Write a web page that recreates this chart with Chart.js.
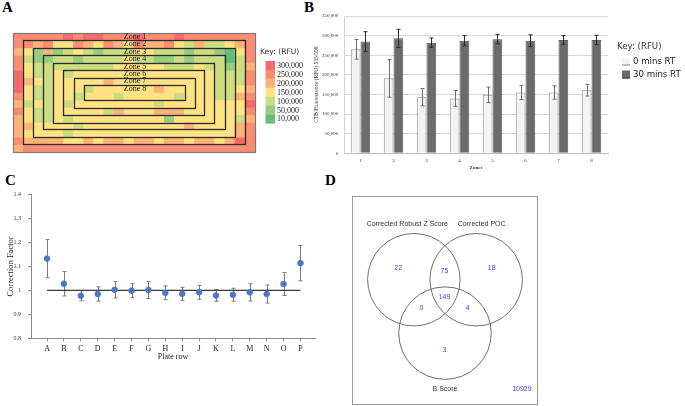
<!DOCTYPE html>
<html>
<head>
<meta charset="utf-8">
<script src="https://cdn.jsdelivr.net/npm/chart.js@4.4.0/dist/chart.umd.min.js"></script>
<style>
  body { margin: 0; background: #fff; width: 685px; height: 406px; position: relative; overflow: hidden; }
  canvas { position: absolute; }
  .tag { position: absolute; font: bold 15px "Liberation Serif", serif; line-height: 15px; color: #000; }
</style>
</head>
<body>
<div class="tag" style="left:2px;top:0px">A</div>
<div class="tag" style="left:304px;top:0px">B</div>
<div class="tag" style="left:5px;top:173px">C</div>
<div class="tag" style="left:325px;top:173px">D</div>

<canvas id="plate" width="330" height="170" style="left:0;top:0"></canvas>
<canvas id="zones" width="385" height="180" style="left:300px;top:0"></canvas>
<canvas id="rows" width="335" height="195" style="left:0;top:175px"></canvas>
<canvas id="venn" width="220" height="226" style="left:340px;top:180px"></canvas>

<script>
// ---- A: plate heat map (384 wells, 16 rows x 24 columns) ----
const keyLevels = [300000, 250000, 200000, 150000, 100000, 50000, 10000];
const keyColors = ['#f8696b', '#fa8d72', '#fcb37a', '#ffe283', '#cbdc81', '#97cd7e', '#63be7b'];
// one digit per well: 7 = 300,000 ... 1 = 10,000 RFU
const plateRows = [
  '666667677666766676666666',
  '665644654654655643533456',
  '542523432333443332332146',
  '632233233334332232333136',
  '643333333344444333433235',
  '743343444444444444443336',
  '754344444544444444443336',
  '743344434444445444443345',
  '643344344434444434443356',
  '534343444444443444444447',
  '643344444354445554444446',
  '543343444444444244444435',
  '554444344444444445444456',
  '544443444444444444444456',
  '655554454554554554554576',
  '566666666666666666666666'
];
const zoneNames = ['Zone 1', 'Zone 2', 'Zone 3', 'Zone 4', 'Zone 5', 'Zone 6', 'Zone 7', 'Zone 8'];

// ---- B: fluorescence per zone ----
const zoneLabels = ['1', '2', '3', '4', '5', '6', '7', '8'];
const rt0 = [265000, 191000, 143000, 140000, 149000, 155000, 155000, 161000];
const rt0Err = [25000, 48000, 22000, 20000, 20000, 18000, 17000, 15000];
const rt30 = [285000, 293000, 282000, 287000, 291000, 287000, 289000, 289000];
const rt30Err = [25000, 23000, 12000, 13000, 12000, 15000, 11000, 12000];

// ---- C: correction factor per plate row ----
const plateRowLabels = ['A', 'B', 'C', 'D', 'E', 'F', 'G', 'H', 'I', 'J', 'K', 'L', 'M', 'N', 'O', 'P'];
const factor = [1.133, 1.028, 0.978, 0.985, 1.003, 0.999, 1.002, 0.990, 0.986, 0.992, 0.979, 0.982, 0.992, 0.985, 1.027, 1.114];
const factorErr = [0.080, 0.051, 0.021, 0.030, 0.034, 0.029, 0.036, 0.029, 0.027, 0.029, 0.024, 0.027, 0.036, 0.038, 0.048, 0.074];
const baseline = 1;

// ---- D: venn counts ----
const vennSets = ['Corrected Robust Z Score', 'Corrected POC', 'B Score'];
const vennCounts = [22, 75, 18, 149, 0, 4, 3, 10929]; // Z, Z+POC, POC, all, Z+B, POC+B, B, none

const serif = '"Liberation Serif", "Times New Roman", serif';

// ================= A =================
const plateRFU = plateRows.map(s => s.split('').map(d => keyLevels[7 - Number(d)]));

const zonePlugin = {
  id: 'zoneBoxes',
  afterDatasetsDraw(chart) {
    const { ctx, scales: { x, y }, chartArea } = chart;
    const nCols = plateRows[0].length, nRows = plateRows.length;
    ctx.save();
    zoneNames.forEach((name, k) => {
      const l = x.getPixelForValue(k), r = x.getPixelForValue(nCols - k);
      const t = y.getPixelForValue(k), b = y.getPixelForValue(nRows - k);
      ctx.lineWidth = k === 0 ? 1.2 : 1.3;
      ctx.strokeStyle = k === 0 ? '#7a7a7a' : '#2b2b2b';
      ctx.strokeRect(Math.round(l) + 0.5, Math.round(t) + 0.5, Math.round(r - l), Math.round(b - t));
    });
    ctx.fillStyle = '#222';
    ctx.font = '8px ' + serif;
    ctx.textAlign = 'center';
    ctx.textBaseline = 'middle';
    zoneNames.forEach((name, k) => {
      ctx.fillText(name, x.getPixelForValue(nCols / 2 + 0.1), y.getPixelForValue(k + 0.5));
    });
    // colour key
    const kx = chartArea.right + 10.5, ky = 61, kw = 9.5, kh = 8.9;
    ctx.textAlign = 'left';
    ctx.font = '7.6px "DejaVu Sans", sans-serif';
    ctx.fillStyle = '#333';
    ctx.fillText('Key: (RFU)', chartArea.right + 5, 52);
    ctx.font = '8px ' + serif;
    keyLevels.forEach((v, i) => {
      ctx.fillStyle = keyColors[i];
      ctx.fillRect(kx, ky + i * kh, kw, kh + 0.3);
      ctx.fillStyle = '#222';
      ctx.fillText(v.toLocaleString('en-US'), kx + kw + 2, ky + i * kh + kh / 2 + 0.5);
    });
    ctx.restore();
  }
};

new Chart(document.getElementById('plate'), {
  type: 'bar',
  data: {
    datasets: plateRFU.map((row, r) => ({
      data: row.map((v, c) => ({ x: c + 0.5, y: [r, r + 1] })),
      backgroundColor: row.map(v => keyColors[keyLevels.indexOf(v)]),
      borderWidth: 0,
      grouped: false,
      barPercentage: 1,
      categoryPercentage: 1
    }))
  },
  options: {
    responsive: false, animation: false, devicePixelRatio: 1,
    layout: { padding: { left: 13, top: 33, right: 75, bottom: 18 } },
    plugins: { legend: { display: false }, tooltip: { enabled: false } },
    scales: {
      x: { type: 'linear', min: 0, max: 24, offset: false, display: false },
      y: { type: 'linear', min: 0, max: 16, reverse: true, display: false }
    }
  },
  plugins: [zonePlugin]
});

// ================= B =================
const errBarsB = {
  id: 'errBarsB',
  afterDatasetsDraw(chart) {
    const { ctx, scales: { y } } = chart;
    ctx.save();
    [rt0Err, rt30Err].forEach((errs, d) => {
      const vals = chart.data.datasets[d].data;
      chart.getDatasetMeta(d).data.forEach((bar, i) => {
        const top = y.getPixelForValue(vals[i] + errs[i]);
        const bot = y.getPixelForValue(vals[i] - errs[i]);
        const xp = Math.round(bar.x) + 0.5;
        ctx.strokeStyle = d ? '#2a2a2a' : '#6e6e6e';
        ctx.lineWidth = 1;
        ctx.beginPath();
        ctx.moveTo(xp, top); ctx.lineTo(xp, bot);
        ctx.moveTo(xp - 2, top); ctx.lineTo(xp + 2, top);
        ctx.moveTo(xp - 2, bot); ctx.lineTo(xp + 2, bot);
        ctx.stroke();
      });
    });
    // legend
    const lx = chart.chartArea.right + 9;
    ctx.font = '8.6px "DejaVu Sans", sans-serif';
    ctx.textBaseline = 'middle';
    ctx.fillStyle = '#333';
    ctx.fillText('Key: (RFU)', lx, 46.5);
    chart.data.datasets.forEach((ds, d) => {
      const sy = 57.5 + d * 13;
      ctx.fillStyle = ds.backgroundColor;
      ctx.fillRect(lx + 5, sy, 8, 8);
      ctx.strokeStyle = d ? '#3a3a3a' : '#8a8a8a';
      ctx.beginPath();
      ctx.moveTo(lx + 5, sy + 7.5); ctx.lineTo(lx + 13, sy + 7.5);
      ctx.stroke();
      ctx.fillStyle = '#222';
      ctx.fillText(ds.label, lx + 16, sy + 4);
    });
    ctx.restore();
  }
};

new Chart(document.getElementById('zones'), {
  type: 'bar',
  data: {
    labels: zoneLabels,
    datasets: [
      { label: '0 mins RT', data: rt0, backgroundColor: '#f3f3f3', borderColor: '#8f8f8f', borderWidth: 1 },
      { label: '30 mins RT', data: rt30, backgroundColor: '#6b6b6b', borderColor: '#5a5a5a', borderWidth: 1 }
    ]
  },
  options: {
    responsive: false, animation: false, devicePixelRatio: 1,
    layout: { padding: { left: 0, top: 16, right: 77, bottom: 0 } },
    datasets: { bar: { categoryPercentage: 0.59, barPercentage: 1 } },
    plugins: { legend: { display: false }, tooltip: { enabled: false } },
    scales: {
      x: {
        grid: { display: false, drawTicks: false },
        border: { display: true, color: '#bdbdbd' },
        ticks: { padding: 4, color: '#333', font: { family: serif, size: 5 } },
        title: { display: true, text: 'Zones', color: '#333', padding: { top: 0, bottom: 9 },
                 font: { family: serif, size: 5, weight: 'bold' } },
        afterFit: s => { s.height = 26.7; }
      },
      y: {
        min: 0, max: 350000,
        grid: { color: '#d9d9d9', drawTicks: false },
        border: { display: true, color: '#d4d4d4' },
        ticks: { stepSize: 50000, padding: 5.7, color: '#333', font: { family: serif, size: 5 },
                 callback: v => v.toLocaleString('en-US') },
        title: { display: true, text: 'CTB Fluorescence (RFU) 535/590', color: '#333',
                 padding: { top: 13.7, bottom: 0 }, font: { family: serif, size: 5.5 } },
        afterFit: s => { s.width = 44; }
      }
    }
  },
  plugins: [errBarsB]
});

// ================= C =================
const errBarsC = {
  id: 'errBarsC',
  beforeDatasetsDraw(chart) {
    const { ctx, scales: { x, y } } = chart;
    ctx.save();
    ctx.strokeStyle = '#7a7a7a';
    ctx.lineWidth = 1;
    factor.forEach((v, i) => {
      const xp = Math.round(x.getPixelForValue(i)) + 0.5;
      const top = y.getPixelForValue(v + factorErr[i]);
      const bot = y.getPixelForValue(v - factorErr[i]);
      ctx.beginPath();
      ctx.moveTo(xp, top); ctx.lineTo(xp, bot);
      ctx.moveTo(xp - 2, top); ctx.lineTo(xp + 2, top);
      ctx.moveTo(xp - 2, bot); ctx.lineTo(xp + 2, bot);
      ctx.stroke();
    });
    ctx.restore();
  }
};

new Chart(document.getElementById('rows'), {
  type: 'scatter',
  data: {
    datasets: [
      { type: 'line', data: [{ x: 0, y: baseline }, { x: plateRowLabels.length - 1, y: baseline }],
        borderColor: '#3a3a3a', borderWidth: 1.3, pointRadius: 0, order: 2 },
      { data: factor.map((v, i) => ({ x: i, y: v })), backgroundColor: '#4a78c9',
        borderColor: '#4a78c9', pointRadius: 2.8, order: 1 }
    ]
  },
  options: {
    responsive: false, animation: false, devicePixelRatio: 1,
    layout: { padding: { left: 0, top: 19.7, right: 20, bottom: 0 } },
    plugins: { legend: { display: false }, tooltip: { enabled: false } },
    scales: {
      x: {
        type: 'linear', min: -0.95, max: 15.86,
        afterBuildTicks: s => { s.ticks = plateRowLabels.map((l, i) => ({ value: i })); },
        grid: { drawOnChartArea: false, color: '#8a8a8a', tickLength: 3 },
        border: { color: '#8a8a8a' },
        ticks: { padding: 3, color: '#222', autoSkip: false, maxRotation: 0,
                 font: { family: serif, size: 8 }, callback: v => plateRowLabels[v] },
        title: { display: true, text: 'Plate row', color: '#222', padding: { top: 0, bottom: 8.2 },
                 font: { family: serif, size: 8 } },
        afterFit: s => { s.height = 31.7; }
      },
      y: {
        min: 0.8, max: 1.4,
        grid: { drawOnChartArea: false, color: '#8a8a8a', tickLength: 3 },
        border: { color: '#8a8a8a' },
        ticks: { stepSize: 0.1, padding: 7, color: '#333', font: { family: serif, size: 6 },
                 callback: v => String(Number(v.toFixed(1))) },
        title: { display: true, text: 'Correction Factor', color: '#222', padding: { top: 5.6, bottom: 0 },
                 font: { family: serif, size: 8.5 } },
        afterFit: s => { s.width = 31; }
      }
    }
  },
  plugins: [errBarsC]
});

// ================= D =================
// circle layout: three equal circles on an equilateral triangle
const vennRadius = 46, vennSpread = 35.8, vennCentre = { x: 0, y: 3 };
const vennAngles = [150, 30, 270];
const vennSetLabelPos = [{ x: -37.5, y: 77 }, { x: 36.5, y: 77 }, { x: 0, y: -89 }];
const vennCountPos = [{ x: -46.5, y: 33 }, { x: -0.5, y: 30 }, { x: 46.5, y: 33 }, { x: -0.5, y: 3 },
                      { x: -23.5, y: -8 }, { x: 22.5, y: -8 }, { x: -0.5, y: -50 }, { x: 76.5, y: -89 }];

const vennText = {
  id: 'vennText',
  afterDatasetsDraw(chart) {
    const { ctx, scales: { x, y }, chartArea: a } = chart;
    ctx.save();
    ctx.strokeStyle = '#9a9a9a';
    ctx.lineWidth = 1;
    ctx.strokeRect(Math.round(a.left) + 0.5, Math.round(a.top) + 0.5, Math.round(a.width) - 1, Math.round(a.height) - 1);
    // set circles, centred on the library-placed points
    const rPx = x.getPixelForValue(vennRadius) - x.getPixelForValue(0);
    ctx.strokeStyle = '#6f6f6f';
    chart.getDatasetMeta(0).data.forEach(pt => {
      ctx.beginPath();
      ctx.arc(pt.x, pt.y, rPx, 0, Math.PI * 2);
      ctx.stroke();
    });
    ctx.textAlign = 'center';
    ctx.textBaseline = 'middle';
    ctx.font = '7px "Liberation Sans", Arial, sans-serif';
    ctx.fillStyle = '#333';
    vennSets.forEach((s, i) => ctx.fillText(s, x.getPixelForValue(vennSetLabelPos[i].x), y.getPixelForValue(vennSetLabelPos[i].y)));
    ctx.fillStyle = '#3b3bf5';
    vennCounts.forEach((n, i) => ctx.fillText(String(n), x.getPixelForValue(vennCountPos[i].x), y.getPixelForValue(vennCountPos[i].y)));
    ctx.restore();
  }
};

new Chart(document.getElementById('venn'), {
  type: 'scatter',
  data: {
    datasets: [{
      data: vennAngles.map(a => ({
        x: vennCentre.x + vennSpread * Math.cos(a * Math.PI / 180),
        y: vennCentre.y + vennSpread * Math.sin(a * Math.PI / 180)
      })),
      pointRadius: 0
    }]
  },
  options: {
    responsive: false, animation: false, devicePixelRatio: 1,
    layout: { padding: { left: 12, top: 16, right: 22, bottom: 1 } },
    plugins: { legend: { display: false }, tooltip: { enabled: false } },
    scales: {
      x: { type: 'linear', min: -92.5, max: 92.5, display: false },
      y: { type: 'linear', min: -105, max: 105, display: false }
    }
  },
  plugins: [vennText]
});
</script>
</body>
</html>
